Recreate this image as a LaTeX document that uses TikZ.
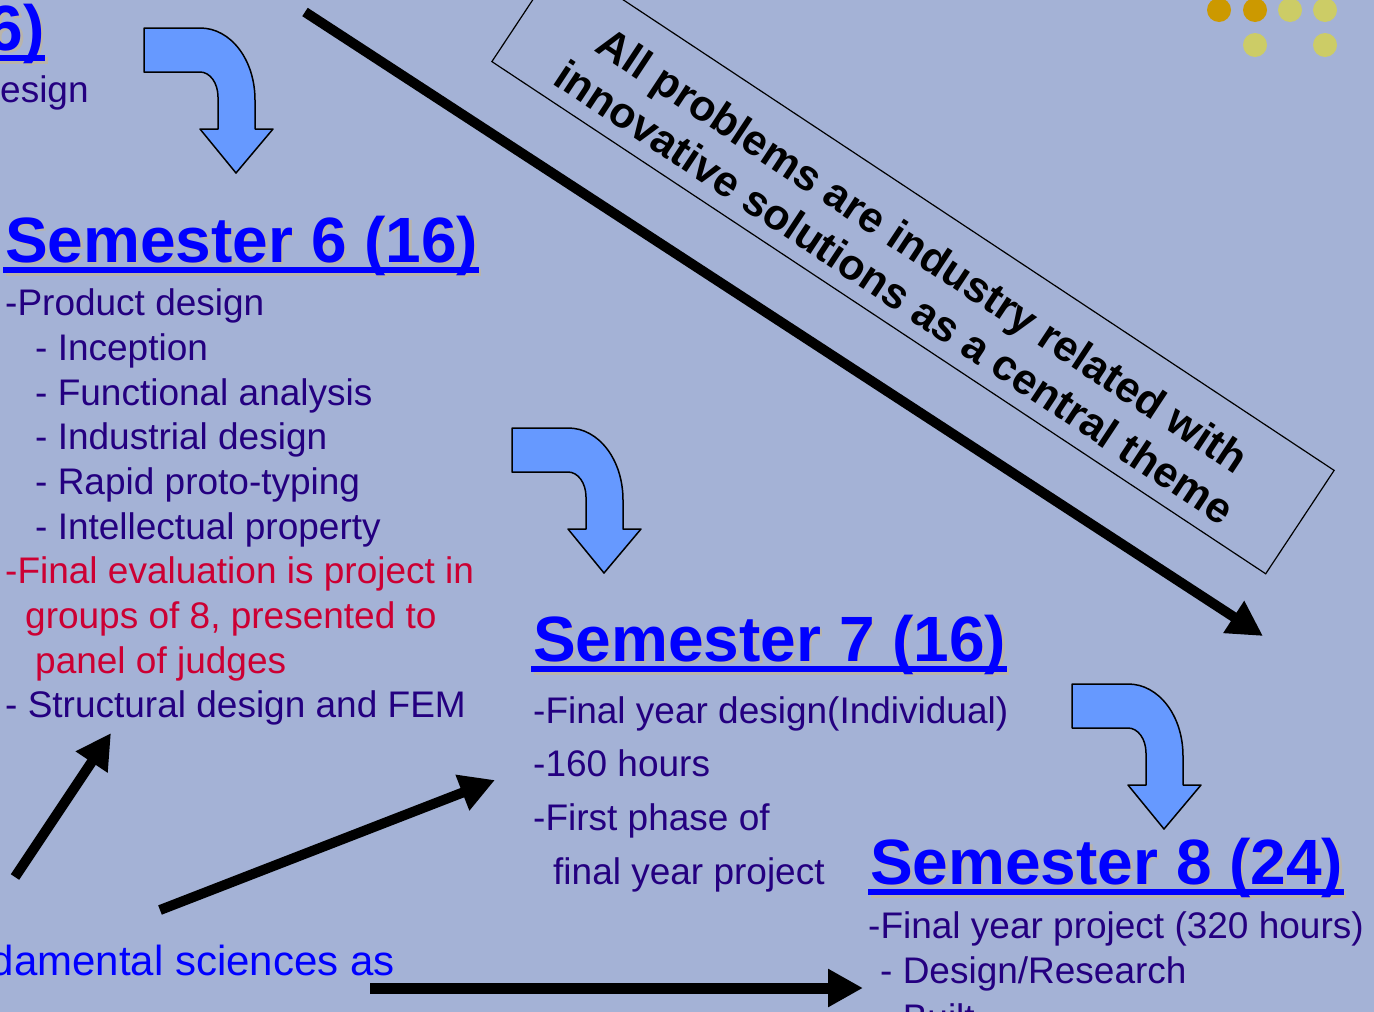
\documentclass[tikz,border=0pt]{standalone}
\usepackage{fontspec}
\setmainfont{Liberation Sans}
\usetikzlibrary{arrows.meta}
\definecolor{bgc}{RGB}{164,178,214}
\definecolor{navy}{RGB}{36,0,128}
\definecolor{redt}{RGB}{204,0,51}
\definecolor{headblue}{RGB}{0,0,255}
\definecolor{shadowc}{RGB}{185,180,170}
\definecolor{arrowfill}{RGB}{102,153,255}
\definecolor{dotdark}{RGB}{204,153,0}
\definecolor{dotlight}{RGB}{204,204,102}
\newcommand{\semhead}[4][base west]{%
  \node[headshadow, anchor=#1, shift={(2.5,2.5)}] (#2s) at #3 {#4};
  \draw[ulineshadow] ([shift={(-2,8)}]#2s.base west) -- ([shift={(0,8)}]#2s.base east);
  \node[head, anchor=#1] (#2) at #3 {#4};
  \draw[uline] ([shift={(-2,8)}]#2.base west) -- ([shift={(0,8)}]#2.base east);
}
\begin{document}
\begin{tikzpicture}[x=1pt,y=-1pt,
  body/.style={font=\fontsize{37}{44}\selectfont, text=navy, inner sep=0pt, anchor=base west},
  redbody/.style={body, text=redt},
  head/.style={font=\fontsize{64}{70}\selectfont\bfseries, text=headblue, inner sep=0pt},
  headshadow/.style={head, text=shadowc},
  uline/.style={line width=6.5pt, draw=headblue},
  ulineshadow/.style={line width=6.5pt, draw=shadowc},
  blk/.style={line width=10pt, -{Triangle[length=35pt,width=36pt]}},
  bendstyle/.style={fill=arrowfill, draw=black, line width=1.5pt, line join=round},
  bendarrow/.pic={\path[bendstyle] (0,0) -- (56,0) .. controls (87,0) and (111,32) .. (111,72) -- (111,101) -- (129,101) -- (92,145) -- (56,101) -- (74,101) -- (74,69) .. controls (74,55) and (66,44) .. (56,44) -- (0,44) -- cycle;}
]
\fill[bgc] (0,0) rectangle (1374,1012);
\useasboundingbox (0,0) rectangle (1374,1012);

% decorative dots
\fill[dotdark] (1219,10) circle[radius=12pt];
\fill[dotdark] (1255,10) circle[radius=12pt];
\fill[dotlight] (1290,10) circle[radius=12pt];
\fill[dotlight] (1325,10) circle[radius=12pt];
\fill[dotlight] (1255,45) circle[radius=12pt];
\fill[dotlight] (1325,45) circle[radius=12pt];

% rotated theme box
\node[draw=black, line width=1.2pt, rotate=-33.5, minimum width=928pt, minimum height=124pt, inner sep=0pt] (themebox) at (913,266) {};
\node[rotate=-33.5, align=center, font=\fontsize{43}{50}\selectfont\bfseries, inner sep=0pt] (theme) at (909,271) {All problems are industry related with\\innovative solutions as a central theme};

% black arrows
\coordinate (a1s) at (305,12);
\coordinate (a1e) at (1263,636);
\coordinate (a2s) at (15,877);
\coordinate (a2e) at (111,733);
\coordinate (a3s) at (160,910);
\coordinate (a3e) at (495,780);
\coordinate (a4s) at (370,988);
\coordinate (a4e) at (863,988);
\draw[blk] (a1s) -- (a1e);
\draw[blk] (a2s) -- (a2e);
\draw[blk] (a3s) -- (a3e);
\draw[blk, line width=11pt] (a4s) -- (a4e);

% bent blue arrows
\pic (ba1) at (144,28) {bendarrow};
\pic (ba2) at (512,428) {bendarrow};
\pic (ba3) at (1072,684) {bendarrow};

% top-left fragments
\semhead[base east]{h5}{(45,50)}{6)}
\node[body] (t5) at (0,102) {esign};

% Semester 6
\semhead{h6}{(5,262)}{Semester 6 (16)}
\node[body] (s6a) at (5,315) {-Product design};
\node[body] (s6b) at (35,360) {- Inception};
\node[body] (s6c) at (35,405) {- Functional analysis};
\node[body] (s6d) at (35,449) {- Industrial design};
\node[body] (s6e) at (35,494) {- Rapid proto-typing};
\node[body] (s6f) at (35,539) {- Intellectual property};
\node[redbody] (s6g) at (5,583) {-Final evaluation is project in};
\node[redbody] (s6h) at (25,628) {groups of 8, presented to};
\node[redbody] (s6i) at (35,673) {panel of judges};
\node[body] (s6j) at (5,717) {- Structural design and FEM};

% Semester 7
\semhead{h7}{(533,661)}{Semester 7 (16)}
\node[body] (s7a) at (533,723) {-Final year design(Individual)};
\node[body] (s7b) at (533,776) {-160 hours};
\node[body] (s7c) at (533,830) {-First phase of};
\node[body] (s7d) at (553,884) {final year project};

% Semester 8
\semhead{h8}{(870,884)}{Semester 8 (24)}
\node[body] (s8a) at (868,938) {-Final year project (320 hours)};
\node[body] (s8b) at (880,983) {- Design/Research};
\node[body] (s8c) at (880,1030) {- Built};

% bottom-left fragment
\node[body, font=\fontsize{42}{50}\selectfont, text=headblue, anchor=base east] (fund) at (395,975) {damental sciences as};
\end{tikzpicture}
\end{document}
